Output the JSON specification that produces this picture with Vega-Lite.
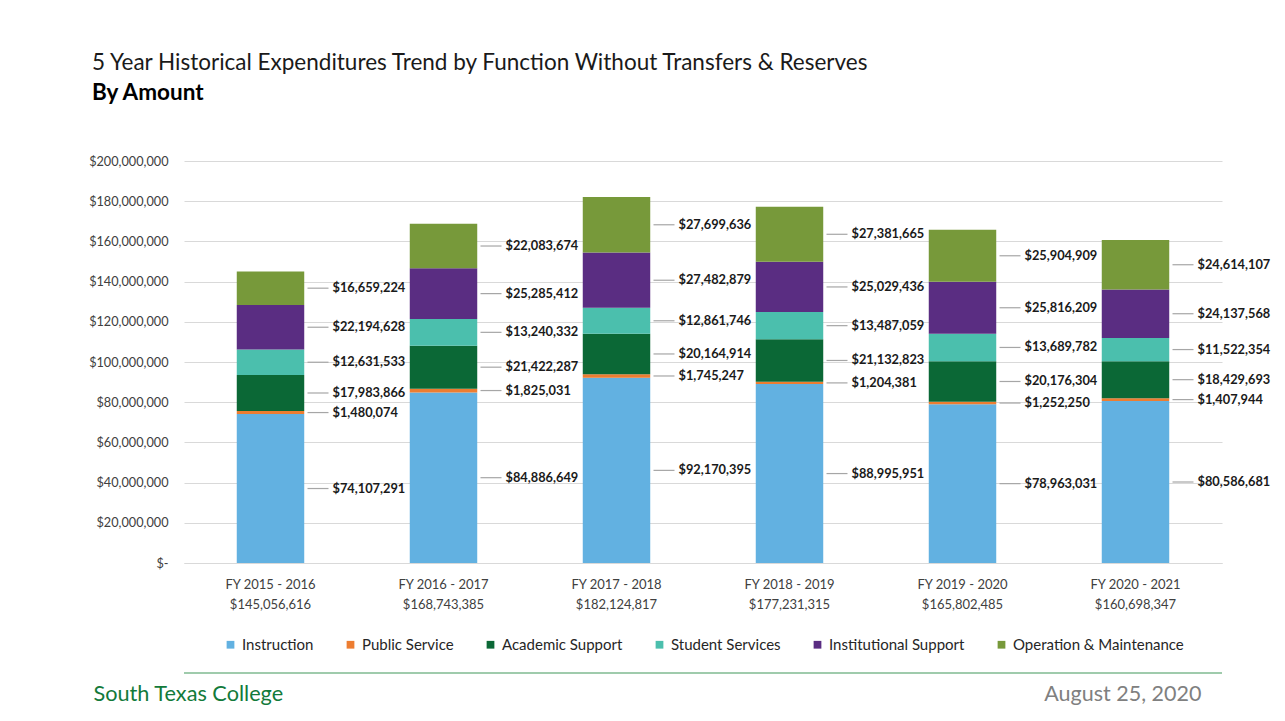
{
  "$schema": "https://vega.github.io/schema/vega-lite/v6.json",
  "width": 1038,
  "height": 402,
  "autosize": {"type": "none"},
  "padding": {"left": 184, "top": 161, "right": 63, "bottom": 158},
  "background": "white",
  "config": {"font": "Lato", "view": {"stroke": null}},
  "title": {
    "text": "5 Year Historical Expenditures Trend by Function Without Transfers & Reserves",
    "subtitle": "By Amount",
    "anchor": "start",
    "frame": "group",
    "dx": -92,
    "offset": 51,
    "font": "Lato",
    "fontSize": 22.5,
    "fontWeight": "normal",
    "color": "#1a1a1a",
    "subtitleFont": "Lato",
    "subtitleFontSize": 22.5,
    "subtitleFontWeight": "bold",
    "subtitleColor": "#000000",
    "subtitlePadding": 7
  },
  "data": {
    "values": [
      {"year": "FY 2015 - 2016|$145,056,616", "func": "Instruction", "order": 1, "amount": 74107291},
      {"year": "FY 2015 - 2016|$145,056,616", "func": "Public Service", "order": 2, "amount": 1480074},
      {"year": "FY 2015 - 2016|$145,056,616", "func": "Academic Support", "order": 3, "amount": 17983866},
      {"year": "FY 2015 - 2016|$145,056,616", "func": "Student Services", "order": 4, "amount": 12631533},
      {"year": "FY 2015 - 2016|$145,056,616", "func": "Institutional Support", "order": 5, "amount": 22194628},
      {"year": "FY 2015 - 2016|$145,056,616", "func": "Operation & Maintenance", "order": 6, "amount": 16659224},
      {"year": "FY 2016 - 2017|$168,743,385", "func": "Instruction", "order": 1, "amount": 84886649},
      {"year": "FY 2016 - 2017|$168,743,385", "func": "Public Service", "order": 2, "amount": 1825031},
      {"year": "FY 2016 - 2017|$168,743,385", "func": "Academic Support", "order": 3, "amount": 21422287},
      {"year": "FY 2016 - 2017|$168,743,385", "func": "Student Services", "order": 4, "amount": 13240332},
      {"year": "FY 2016 - 2017|$168,743,385", "func": "Institutional Support", "order": 5, "amount": 25285412},
      {"year": "FY 2016 - 2017|$168,743,385", "func": "Operation & Maintenance", "order": 6, "amount": 22083674},
      {"year": "FY 2017 - 2018|$182,124,817", "func": "Instruction", "order": 1, "amount": 92170395},
      {"year": "FY 2017 - 2018|$182,124,817", "func": "Public Service", "order": 2, "amount": 1745247},
      {"year": "FY 2017 - 2018|$182,124,817", "func": "Academic Support", "order": 3, "amount": 20164914},
      {"year": "FY 2017 - 2018|$182,124,817", "func": "Student Services", "order": 4, "amount": 12861746},
      {"year": "FY 2017 - 2018|$182,124,817", "func": "Institutional Support", "order": 5, "amount": 27482879},
      {"year": "FY 2017 - 2018|$182,124,817", "func": "Operation & Maintenance", "order": 6, "amount": 27699636},
      {"year": "FY 2018 - 2019|$177,231,315", "func": "Instruction", "order": 1, "amount": 88995951},
      {"year": "FY 2018 - 2019|$177,231,315", "func": "Public Service", "order": 2, "amount": 1204381},
      {"year": "FY 2018 - 2019|$177,231,315", "func": "Academic Support", "order": 3, "amount": 21132823},
      {"year": "FY 2018 - 2019|$177,231,315", "func": "Student Services", "order": 4, "amount": 13487059},
      {"year": "FY 2018 - 2019|$177,231,315", "func": "Institutional Support", "order": 5, "amount": 25029436},
      {"year": "FY 2018 - 2019|$177,231,315", "func": "Operation & Maintenance", "order": 6, "amount": 27381665},
      {"year": "FY 2019 - 2020|$165,802,485", "func": "Instruction", "order": 1, "amount": 78963031},
      {"year": "FY 2019 - 2020|$165,802,485", "func": "Public Service", "order": 2, "amount": 1252250},
      {"year": "FY 2019 - 2020|$165,802,485", "func": "Academic Support", "order": 3, "amount": 20176304},
      {"year": "FY 2019 - 2020|$165,802,485", "func": "Student Services", "order": 4, "amount": 13689782},
      {"year": "FY 2019 - 2020|$165,802,485", "func": "Institutional Support", "order": 5, "amount": 25816209},
      {"year": "FY 2019 - 2020|$165,802,485", "func": "Operation & Maintenance", "order": 6, "amount": 25904909},
      {"year": "FY 2020 - 2021|$160,698,347", "func": "Instruction", "order": 1, "amount": 80586681},
      {"year": "FY 2020 - 2021|$160,698,347", "func": "Public Service", "order": 2, "amount": 1407944},
      {"year": "FY 2020 - 2021|$160,698,347", "func": "Academic Support", "order": 3, "amount": 18429693},
      {"year": "FY 2020 - 2021|$160,698,347", "func": "Student Services", "order": 4, "amount": 11522354},
      {"year": "FY 2020 - 2021|$160,698,347", "func": "Institutional Support", "order": 5, "amount": 24137568},
      {"year": "FY 2020 - 2021|$160,698,347", "func": "Operation & Maintenance", "order": 6, "amount": 24614107}
    ]
  },
  "transform": [
    {"stack": "amount", "groupby": ["year"], "sort": [{"field": "order"}], "as": ["y0", "y1"]},
    {"calculate": "(datum.y0 + datum.y1) / 2", "as": "mid"}
  ],
  "layer": [
    {
      "mark": {"type": "bar", "width": {"band": 0.39}},
      "encoding": {
        "x": {
          "field": "year", "type": "nominal", "sort": null,
          "scale": {"paddingInner": 0, "paddingOuter": 0},
          "axis": {
            "labelExpr": "split(datum.label, '|')",
            "labelAngle": 0,
            "labelFontSize": 13,
            "labelColor": "#404040",
            "labelLineHeight": 20,
            "labelPadding": 15,
            "ticks": false,
            "domain": true,
            "domainColor": "#d9d9d9",
            "title": "South Texas College",
            "titleX": -91,
            "titleY": 137,
            "titleAlign": "left",
            "titleBaseline": "alphabetic",
            "titleFontSize": 21.7,
            "titleFontWeight": "normal",
            "titleColor": "#127a3a"
          }
        },
        "y": {
          "field": "y0", "type": "quantitative",
          "scale": {"domain": [0, 200000000]},
          "axis": {
            "values": [0, 20000000, 40000000, 60000000, 80000000, 100000000, 120000000, 140000000, 160000000, 180000000, 200000000],
            "labelExpr": "datum.value == 0 ? '$-' : '$' + format(datum.value, ',')",
            "labelFontSize": 12.7,
            "labelColor": "#404040",
            "labelPadding": 16,
            "ticks": false,
            "domain": false,
            "gridColor": "#d9d9d9",
            "title": "August 25, 2020",
            "titleAngle": 0,
            "titleX": 1017,
            "titleY": 539,
            "titleAlign": "right",
            "titleBaseline": "alphabetic",
            "titleFontSize": 21.5,
            "titleFontWeight": "normal",
            "titleColor": "#808080"
          }
        },
        "y2": {"field": "y1"},
        "color": {
          "field": "func", "type": "nominal",
          "scale": {
            "domain": ["Instruction", "Public Service", "Academic Support", "Student Services", "Institutional Support", "Operation & Maintenance"],
            "range": ["#62b1e1", "#ed7d31", "#0b6836", "#4bbfad", "#5a2d82", "#77993a"]
          },
          "legend": {
            "orient": "none",
            "legendX": 39,
            "legendY": 476,
            "direction": "horizontal",
            "title": null,
            "symbolType": "square",
            "symbolSize": 60,
            "labelFontSize": 15,
            "labelLimit": 400,
            "labelColor": "#262626",
            "labelOffset": 4,
            "columnPadding": 29
          }
        }
      }
    },
    {
      "mark": {"type": "rule", "xOffset": 37, "x2Offset": 58, "color": "#a6a6a6", "strokeWidth": 1.2},
      "encoding": {
        "x": {"field": "year", "type": "nominal", "sort": null},
        "x2": {"field": "year"},
        "y": {"field": "mid", "type": "quantitative"}
      }
    },
    {
      "mark": {"type": "text", "align": "left", "baseline": "middle", "dx": 62, "fontWeight": "bold", "fontSize": 12.8, "color": "#1a1a1a"},
      "encoding": {
        "x": {"field": "year", "type": "nominal", "sort": null},
        "y": {"field": "mid", "type": "quantitative"},
        "text": {"field": "amount", "type": "quantitative", "format": "$,.0f"}
      }
    },
    {
      "data": {"values": [{}]},
      "mark": {"type": "rule", "color": "#7fba90", "strokeWidth": 1.5},
      "encoding": {"y": {"datum": -54700000}}
    }
  ]
}
